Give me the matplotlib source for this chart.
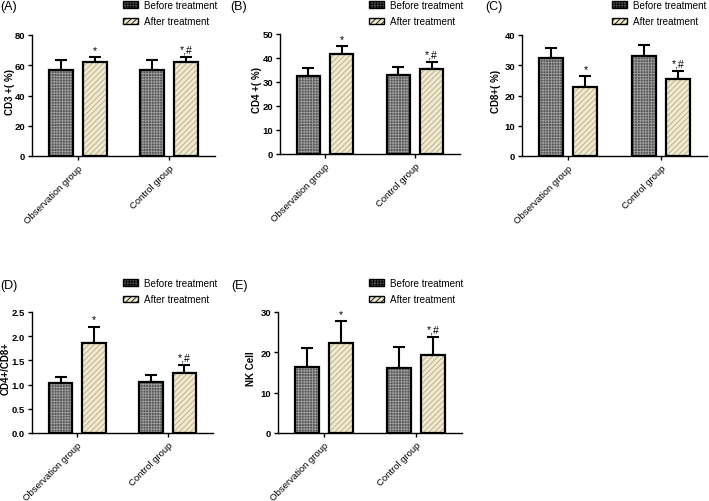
import numpy as np
import matplotlib
matplotlib.use("Agg")
import matplotlib.pyplot as plt
from matplotlib.patches import Patch

plt.rcParams['font.family'] = ['Liberation Sans', 'DejaVu Sans']
plt.rcParams['hatch.linewidth'] = 0.6

groups = ["Observation group", "Control group"]
series_names = ["Before treatment", "After treatment"]

cd3_before = [56.8, 57.0]
cd3_before_err = [6.4, 6.7]
cd3_after = [62.2, 62.2]
cd3_after_err = [3.4, 3.4]

cd4_before = [32.4, 32.9]
cd4_before_err = [3.4, 3.2]
cd4_after = [41.5, 35.3]
cd4_after_err = [3.5, 3.0]

cd8_before = [32.5, 33.0]
cd8_before_err = [3.1, 3.7]
cd8_after = [22.8, 25.6]
cd8_after_err = [3.5, 2.6]

ratio_before = [1.03, 1.06]
ratio_before_err = [0.12, 0.14]
ratio_after = [1.86, 1.25]
ratio_after_err = [0.34, 0.16]

nk_before = [16.3, 16.2]
nk_before_err = [4.8, 5.1]
nk_after = [22.2, 19.3]
nk_after_err = [5.5, 4.6]

marks = ["*", "*,#"]

W, H = 709, 502
fig = plt.figure(figsize=(W / 100, H / 100), dpi=100)

before_face = '#555555'
before_hatch = '#9e9e9e'
after_face = '#f1e9cf'
after_hatch = '#b5aa86'


def px_axes(x0, x1, ytop, ybot):
    return fig.add_axes([x0 / W, 1 - ybot / H, (x1 - x0) / W, (ybot - ytop) / H])


def draw_bars(ax, x, vals, errs, face, hcol, hatch):
    # hatch layer first, then the black outline on top
    ax.bar(x, vals, width=0.26, color=face, edgecolor=hcol, hatch=hatch, linewidth=0, zorder=2)
    ax.bar(x, vals, width=0.26, fill=False, edgecolor='black', linewidth=1.6, zorder=3)
    ax.errorbar(x, vals, yerr=[np.zeros(len(vals)), errs], fmt='none', ecolor='black',
                elinewidth=1.5, capsize=4.5, capthick=1.5, zorder=1)


def panel(box, label, ylabel, ylab_x, ymax, ystep, before, berr, after, aerr, fmt, leg_xy, lab_xy):
    ax = px_axes(*box)
    x = np.arange(len(groups))
    draw_bars(ax, x - 0.185, before, berr, before_face, before_hatch, '++++++')
    draw_bars(ax, x + 0.185, after, aerr, after_face, after_hatch, '//////')
    for i in range(len(groups)):
        ax.annotate(marks[i], (x[i] + 0.185, after[i] + aerr[i]), xytext=(0, 1.5),
                    textcoords='offset points', ha='center', va='bottom', fontsize=7.5)
    ax.set_xlim(-0.5, 1.5)
    ax.set_ylim(0, ymax)
    ax.set_yticks(np.arange(0, ymax + ystep / 2, ystep))
    ax.yaxis.set_major_formatter(plt.FormatStrFormatter(fmt))
    ax.set_xticks(x)
    ax.set_xticklabels(groups, rotation=45, ha='right', rotation_mode='anchor', fontsize=6.8)
    for t in ax.get_yticklabels():
        t.set_fontweight('bold')
        t.set_fontsize(6.8)
    ax.set_ylabel(ylabel, fontsize=7, fontweight='bold', ha='center', va='center')
    ax.yaxis.set_label_coords((ylab_x - box[0]) / (box[1] - box[0]), 0.54)
    ax.spines['top'].set_visible(False)
    ax.spines['right'].set_visible(False)
    ax.spines['left'].set_linewidth(1.0)
    ax.spines['bottom'].set_linewidth(1.0)
    ax.tick_params(axis='both', length=3, width=1, pad=2)
    handles = [Patch(facecolor=before_face, edgecolor='black', hatch='++++++', linewidth=1),
               Patch(facecolor=after_face, edgecolor='black', hatch='//////', linewidth=1)]
    ax.legend(handles, series_names, loc='upper left', frameon=False,
              bbox_to_anchor=(leg_xy[0] / W, 1 - leg_xy[1] / H), bbox_transform=fig.transFigure,
              fontsize=7.1, handlelength=1.5, handleheight=0.7, handletextpad=0.6,
              labelspacing=0.65, borderpad=0, borderaxespad=0)
    fig.text(lab_xy[0] / W, 1 - lab_xy[1] / H, label, fontsize=9, ha='left', va='top')
    return ax


panel((32, 215, 36, 157), "(A)", "CD3 +( %)", 10, 80, 20, cd3_before, cd3_before_err,
      cd3_after, cd3_after_err, '%d', (123, 1), (0, 1))
panel((280, 460, 35, 155), "(B)", "CD4 +( %)", 257, 50, 10, cd4_before, cd4_before_err,
      cd4_after, cd4_after_err, '%d', (369, 1), (230, 1))
panel((522, 707, 36, 157), "(C)", "CD8+( %)", 496, 40, 10, cd8_before, cd8_before_err,
      cd8_after, cd8_after_err, '%d', (612, 1), (485, 1))
panel((32, 213, 313, 434), "(D)", "CD4+/CD8+", 6, 2.5, 0.5, ratio_before, ratio_before_err,
      ratio_after, ratio_after_err, '%.1f', (123, 279), (0, 280))
panel((278, 462, 313, 434), "(E)", "NK Cell", 251, 30, 10, nk_before, nk_before_err,
      nk_after, nk_after_err, '%d', (369, 279), (231, 280))

fig.savefig("out.png", dpi=100)
